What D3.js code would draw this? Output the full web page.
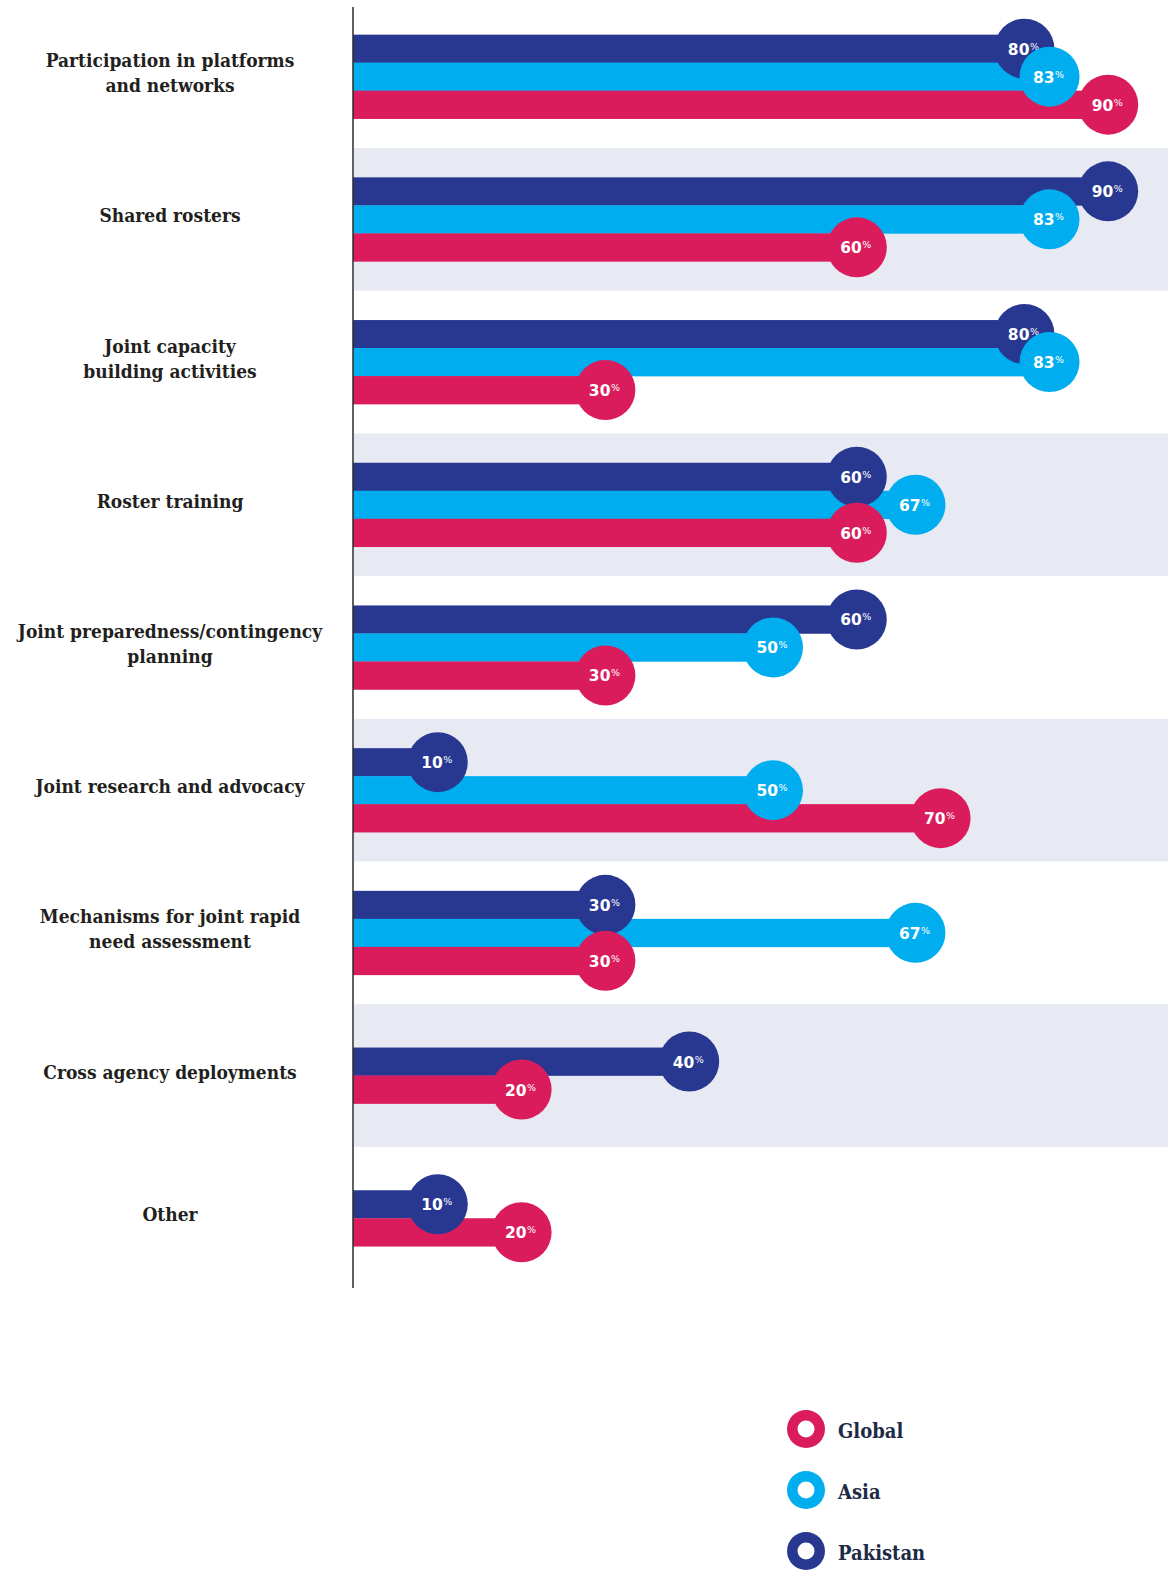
<!DOCTYPE html>
<html>
<head>
<meta charset="utf-8">
<script src="https://cdn.jsdelivr.net/npm/d3@7"></script>
<style>
  html, body { margin: 0; padding: 0; background: #ffffff; }
  svg { display: block; }
  .cat { font-family: "DejaVu Serif", serif; font-stretch: condensed; font-weight: bold; fill: #231f20; }
  .val { font-family: "DejaVu Sans", sans-serif; font-weight: bold; fill: #ffffff; }
  .leg { font-family: "DejaVu Serif", serif; font-stretch: condensed; font-weight: bold; fill: #1e2a45; }
</style>
</head>
<body>
<script>
// ---- data ----
const categories = [
  "Participation in platforms\nand networks",
  "Shared rosters",
  "Joint capacity\nbuilding activities",
  "Roster training",
  "Joint preparedness/contingency\nplanning",
  "Joint research and advocacy",
  "Mechanisms for joint rapid\nneed assessment",
  "Cross agency deployments",
  "Other"
];
const seriesNames = ["Pakistan", "Asia", "Global"];
const pakistanValues = [80, 90, 80, 60, 60, 10, 30, 40, 10];
const asiaValues     = [83, 83, 83, 67, 50, 50, 67, null, null];
const globalValues   = [90, 60, 30, 60, 30, 70, 30, 20, 20];
const seriesColors = { Pakistan: "#283891", Asia: "#00aeef", Global: "#da1c5c" };
const legendOrder = ["Global", "Asia", "Pakistan"];

const valuesBySeries = { Pakistan: pakistanValues, Asia: asiaValues, Global: globalValues };

const W = 1168, H = 1570;
const svg = d3.select("body").append("svg").attr("width", W).attr("height", H);

const x = d3.scaleLinear().domain([0, 100]).range([354, 1192]);
const y = d3.scaleBand().domain(categories).range([5.3, 1289.6]).paddingInner(0).paddingOuter(0);
const barH = 28;
const r = 30;

// shaded alternate bands
svg.append("g").selectAll("rect")
  .data(categories.filter((d, i) => i % 2 === 1))
  .join("rect")
  .attr("x", 354).attr("width", W - 354)
  .attr("y", d => y(d)).attr("height", y.bandwidth())
  .attr("fill", "#e8eaf3");

// compute rows
const rows = categories.map((c, i) => {
  const present = seriesNames.filter(s => valuesBySeries[s][i] != null);
  const center = y(c) + y.bandwidth() / 2;
  const inner = d3.scaleBand().domain(present)
    .range([center - present.length * barH / 2, center + present.length * barH / 2]);
  return present.map(s => ({ cat: c, series: s, value: valuesBySeries[s][i], y0: inner(s), h: inner.bandwidth() }));
});
const marks = rows.flat();

// bars
svg.append("g").selectAll("rect")
  .data(marks)
  .join("rect")
  .attr("x", 353).attr("width", d => x(d.value) - 353)
  .attr("y", d => d.y0).attr("height", d => d.h + 0.3)
  .attr("fill", d => seriesColors[d.series]);

// circles drawn in order Pakistan, Global, Asia
const circleOrder = ["Pakistan", "Global", "Asia"];
const circleMarks = circleOrder.flatMap(s => marks.filter(m => m.series === s));
const cg = svg.append("g").selectAll("g")
  .data(circleMarks)
  .join("g")
  .attr("transform", d => `translate(${x(d.value)},${d.y0 + d.h / 2})`);
cg.append("circle").attr("r", r).attr("fill", d => seriesColors[d.series]);
const vt = cg.append("text").attr("class", "val")
  .attr("text-anchor", "middle").attr("y", 6).attr("x", -1);
vt.append("tspan").attr("font-size", 15.5).text(d => d.value);
vt.append("tspan").attr("font-size", 9.5).attr("font-weight", "normal").attr("dx", 0.5).attr("dy", -5).text("%");

// axis line
svg.append("line")
  .attr("x1", 353).attr("x2", 353).attr("y1", 7).attr("y2", 1288)
  .attr("stroke", "#2b2b2b").attr("stroke-width", 1.5);

// category labels
const lab = svg.append("g").selectAll("text")
  .data(categories)
  .join("text").attr("class", "cat")
  .attr("text-anchor", "middle")
  .attr("font-size", 19);
lab.each(function(c) {
  const lines = c.split("\n");
  const center = y(c) + y.bandwidth() / 2;
  const t = d3.select(this);
  lines.forEach((ln, i) => {
    t.append("tspan").attr("x", 170)
      .attr("y", center + 3 + (i - (lines.length - 1) / 2) * 25)
      .text(ln);
  });
});

// legend
const ly = d3.scalePoint().domain(legendOrder).range([1429, 1551]);
const lg = svg.append("g").selectAll("g")
  .data(legendOrder)
  .join("g")
  .attr("transform", d => `translate(806,${ly(d)})`);
lg.append("circle").attr("r", 19).attr("fill", d => seriesColors[d]);
lg.append("circle").attr("r", 8.5).attr("fill", "#ffffff");
lg.append("text").attr("class", "leg").attr("x", 32).attr("y", 8.5)
  .attr("font-size", 20).text(d => d);
</script>
</body>
</html>
